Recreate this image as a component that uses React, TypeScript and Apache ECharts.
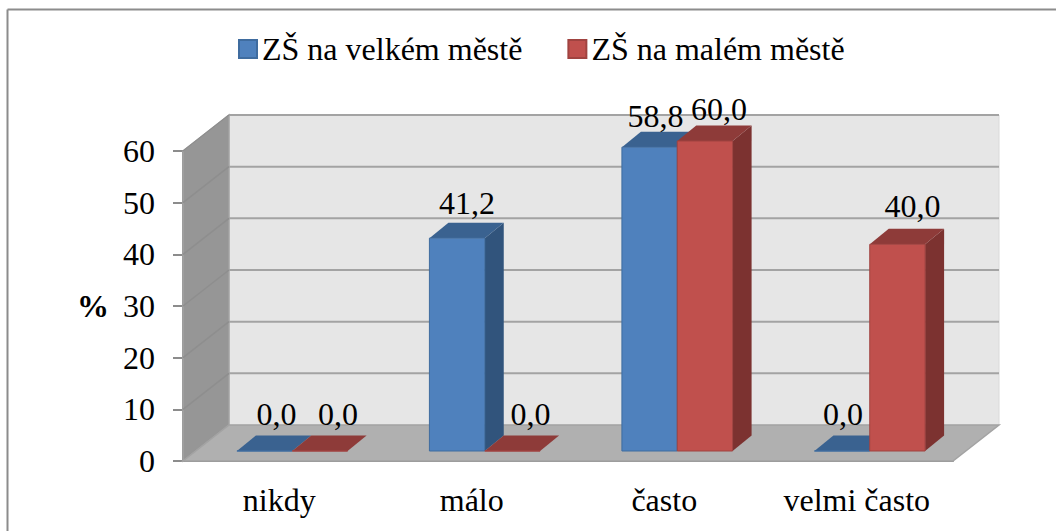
import React, { useEffect, useRef } from "react";
import * as echarts from "echarts";

const categories = ["nikdy", "málo", "často", "velmi často"];
const seriesNames = ["ZŠ na velkém městě", "ZŠ na malém městě"];
const velke = [0, 41.2, 58.8, 0];
const male = [0, 0, 60, 40];
const yTicks = [0, 10, 20, 30, 40, 50, 60];

// hand-placed data label shifts of the original (dx, dy from bar centre / top)
const labelShiftVelke = [[12, -37], [10, -35], [6, -31], [1, -37]];
const labelShiftMale = [[18, -37], [18, -37], [14, -32], [15, -38]];

const FONT = "'Liberation Serif', 'Times New Roman', serif";
const FS = 32;
const WALL_DX = 46;
const WALL_DY = 36;
const FRONT_DX = 13;
const FRONT_DY = 10;
const DEPTH_DX = 19;
const DEPTH_DY = 15.5;
const BAR_RATIO = 0.2875;

const pal = [
  { front: "#4F81BD", border: "#3F6C9F", top: "#3A6290", side: "#31547C" },
  { front: "#C0504D", border: "#A04340", top: "#8E3B39", side: "#7C3230" },
];

function renderWalls(params: any, api: any) {
  const cs = params.coordSys;
  const x0 = cs.x;
  const x1 = cs.x + cs.width;
  const yB = api.coord([0, 0])[1];
  const yT = api.coord([0, yTicks[yTicks.length - 1]])[1];
  const edge = "#A3A3A3";
  const poly = (points: number[][], fill: string, stroke = edge, lineWidth = 1.5) => ({
    type: "polygon",
    shape: { points },
    style: { fill, stroke, lineWidth },
  });
  const children: any[] = [
    poly([[x0 + WALL_DX, yT - WALL_DY], [x1 + WALL_DX, yT - WALL_DY], [x1 + WALL_DX, yB - WALL_DY], [x0 + WALL_DX, yB - WALL_DY]], "#E6E6E6", "#DADADA", 1),
    poly([[x0, yT], [x0 + WALL_DX, yT - WALL_DY], [x0 + WALL_DX, yB - WALL_DY], [x0, yB]], "#969696"),
    poly([[x0, yB], [x1, yB], [x1 + WALL_DX, yB - WALL_DY], [x0 + WALL_DX, yB - WALL_DY]], "#B0B0B0"),
  ];
  yTicks.slice(1).forEach((t) => {
    const y = api.coord([0, t])[1];
    children.push({
      type: "line",
      shape: { x1: x0, y1: y, x2: x0 + WALL_DX, y2: y - WALL_DY },
      style: { stroke: "#8E8E8E", lineWidth: 1.5 },
    });
    children.push({
      type: "line",
      shape: { x1: x0 + WALL_DX, y1: y - WALL_DY, x2: x1 + WALL_DX, y2: y - WALL_DY },
      style: { stroke: edge, lineWidth: 2 },
    });
  });
  return { type: "group", children };
}

function makeBarRender(serie: number, shifts: number[][]) {
  const c = pal[serie];
  return (params: any, api: any) => {
    const i = api.value(0);
    const v = api.value(1);
    const center = api.coord([i, v]);
    const band = api.size([1, 0])[0];
    const w = band * BAR_RATIO;
    const yBase = api.coord([i, 0])[1] - FRONT_DY;
    const yTop = center[1] - FRONT_DY;
    const xL = center[0] + FRONT_DX + (serie === 0 ? -w : 0);
    const xR = xL + w;
    const dx = DEPTH_DX;
    const dy = DEPTH_DY;
    const stroke = { stroke: c.border, lineWidth: 1 };
    const shift = shifts[i];
    return {
      type: "group",
      children: [
        { type: "polygon", shape: { points: [[xR, yTop], [xR + dx, yTop - dy], [xR + dx, yBase - dy], [xR, yBase]] }, style: { fill: c.side } },
        { type: "polygon", shape: { points: [[xL, yTop], [xR, yTop], [xR + dx, yTop - dy], [xL + dx, yTop - dy]] }, style: { fill: c.top } },
        { type: "rect", shape: { x: xL, y: yTop, width: w, height: yBase - yTop }, style: { fill: c.front, ...stroke } },
        {
          type: "text",
          x: xL + w / 2 + shift[0],
          y: yTop + shift[1],
          style: {
            text: v.toFixed(1).replace(".", ","),
            fill: "#000",
            font: `${FS}px ${FONT}`,
            textAlign: "center",
            textVerticalAlign: "middle",
          },
        },
      ],
    };
  };
}

export default function App() {
  const ref = useRef<HTMLDivElement>(null);
  useEffect(() => {
    document.body.style.margin = "0";
    const chart = echarts.init(ref.current!, null, { renderer: "svg" });
    const toData = (vals: number[]) => vals.map((v, i) => [i, v]);
    chart.setOption({
      animation: false,
      backgroundColor: "#fff",
      grid: { left: 183, top: 151, width: 770, height: 310, containLabel: false },
      legend: {
        data: seriesNames.map((name) => ({ name, icon: "rect" })),
        left: 238,
        top: 33,
        padding: 0,
        itemWidth: 18,
        itemHeight: 18,
        itemGap: 45,
        selectedMode: false,
        textStyle: { fontFamily: FONT, fontSize: FS, color: "#000" },
      },
      xAxis: {
        type: "category",
        data: categories,
        axisLine: { lineStyle: { color: "#8C8C8C", width: 2 } },
        axisTick: { length: 9, lineStyle: { color: "#8C8C8C", width: 2 } },
        axisLabel: { margin: 23, fontFamily: FONT, fontSize: FS, color: "#000" },
      },
      yAxis: {
        type: "value",
        min: 0,
        max: 60,
        interval: 10,
        splitLine: { show: false },
        axisLine: { show: true, lineStyle: { color: "#8C8C8C", width: 2 } },
        axisTick: { show: true, length: 10, lineStyle: { color: "#8C8C8C", width: 2 } },
        axisLabel: { margin: 28, fontFamily: FONT, fontSize: FS, color: "#000" },
        name: "%",
        nameLocation: "middle",
        nameRotate: 0,
        nameGap: 74,
        nameTextStyle: { fontFamily: FONT, fontSize: FS, fontWeight: "bold", color: "#000" },
      },
      graphic: [
        { type: "line", shape: { x1: 7.5, y1: 9.5, x2: 1056, y2: 9.5 }, style: { stroke: "#8C8C8C", lineWidth: 2 }, silent: true },
        { type: "line", shape: { x1: 7.5, y1: 9.5, x2: 7.5, y2: 531 }, style: { stroke: "#8C8C8C", lineWidth: 2 }, silent: true },
      ],
      series: [
        { type: "custom", name: "walls", silent: true, z: 1, data: [[0, 0]], renderItem: renderWalls, encode: { x: 0, y: 1 } },
        {
          type: "custom", name: seriesNames[0], z: 3, data: toData(velke),
          renderItem: makeBarRender(0, labelShiftVelke), encode: { x: 0, y: 1 },
          itemStyle: { color: pal[0].front, borderColor: pal[0].border, borderWidth: 1 },
        },
        {
          type: "custom", name: seriesNames[1], z: 4, data: toData(male),
          renderItem: makeBarRender(1, labelShiftMale), encode: { x: 0, y: 1 },
          itemStyle: { color: pal[1].front, borderColor: pal[1].border, borderWidth: 1 },
        },
      ],
    });
    return () => chart.dispose();
  }, []);
  return <div ref={ref} style={{ position: "absolute", left: 0, top: 0, width: 1056, height: 531 }} />;
}
